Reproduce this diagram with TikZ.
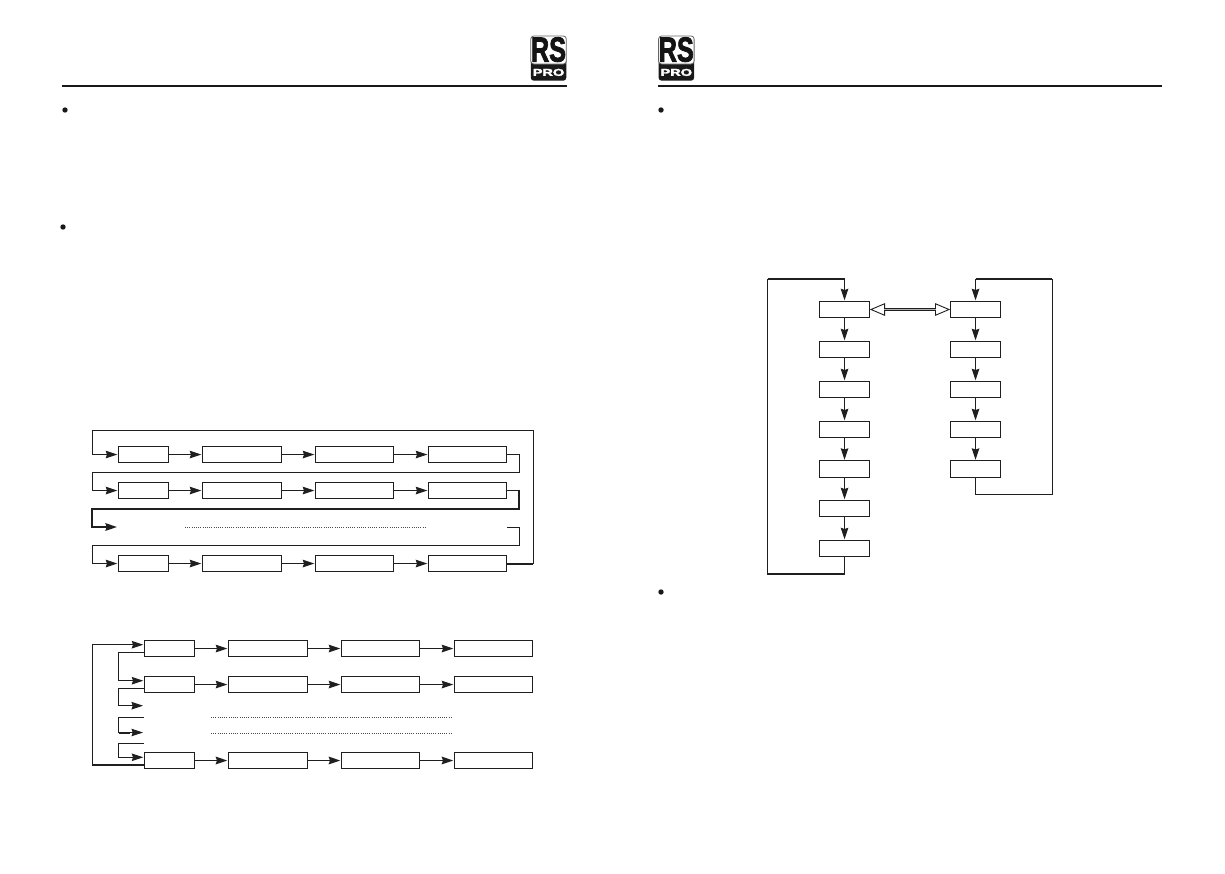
\documentclass[tikz,border=0pt]{standalone}
\usepackage{fontspec}
\setmainfont{Liberation Sans}
\newfontfamily\heavyfont[BoldFeatures={FakeBold=2.5}]{Liberation Sans}
\usetikzlibrary{arrows.meta,shapes.arrows,calc}
\tikzset{
 px/.style={x=1pt,y=-1pt},
 sbox/.style={draw=black!88,line width=1pt,inner sep=0pt,outer sep=0pt,minimum width=50.4pt,minimum height=16.4pt},
 mbox/.style={sbox,minimum width=79.4pt},
 nbox/.style={sbox,minimum width=78.4pt},
 vbox/.style={sbox},
 conn/.style={draw=black!88,line width=0.9pt,line join=miter},
 thk/.style={conn,line width=2pt},
 arr/.style={conn,-{Stealth[length=11.5pt,width=7.5pt,inset=1.2pt]},shorten >=1pt},
 tarr/.style={arr,line width=1.9pt},
 dots/.style={draw=black!70,line width=0.8pt,dash pattern=on 1pt off 1.2pt},
 rule/.style={draw=black!90,line width=1.4pt},
 bullet/.style={circle,fill=black!90,inner sep=0pt,minimum size=5.4pt},
 logoouter/.style={draw=black!60,fill=white,line width=0.8pt,rounded corners=3pt},
 logotxt/.style={font=\heavyfont\bfseries,inner sep=0pt},
}
\newcommand{\rsLogo}[3]{% name, left x, top y
 \begin{scope}[shift={(#2,#3)}]
  \fill[black!90,rounded corners=3pt] (0,20) rectangle (35.5,44.7);
  \draw[logoouter] (0,0) rectangle (35.5,28);
  \node[logotxt,text=black!92] (#1rs) at (17.7,13.6) {\scalebox{1.05}[1.45]{\fontsize{24}{24}\selectfont RS}};
  \node[logotxt,text=white] (#1pro) at (17.7,36.4) {\scalebox{1.45}[1]{\fontsize{10}{10}\selectfont PRO}};
 \end{scope}
}
\begin{document}
\begin{tikzpicture}[px]
\useasboundingbox (0,0) rectangle (1225,873);
\fill[white] (0,0) rectangle (1225,873);

% headers
\rsLogo{la}{530.8}{36}
\rsLogo{lb}{658.6}{36}
\coordinate (hl1) at (62,86); \coordinate (hl2) at (567,86);
\coordinate (hr1) at (658,86); \coordinate (hr2) at (1162,86);
\draw[rule] (hl1) -- (hl2);
\draw[rule] (hr1) -- (hr2);
\node[bullet] (b1) at (65,110) {};
\node[bullet] (b2) at (63,227) {};
\node[bullet] (b3) at (661,110) {};
\node[bullet] (b4) at (661,592) {};

% first diagram
\foreach \r/\y in {a/454.5,b/490.5,d/563.5}{
 \node[sbox] (\r1) at (143.5,\y) {};
 \node[mbox] (\r2) at (242,\y) {};
 \node[nbox] (\r3) at (354.5,\y) {};
 \node[nbox] (\r4) at (467.5,\y) {};
 \draw[arr] (\r1.east) -- (\r2.west);
 \draw[arr] (\r2.east) -- (\r3.west);
 \draw[arr] (\r3.east) -- (\r4.west);
}
\coordinate (cstub) at (507,527);
\coordinate (cin) at (118,527);
\coordinate (cdl) at (185,527);
\coordinate (cdr) at (427,527);
\draw[dots] (cdl) -- (cdr);
% outer loop
\draw[arr] (d4.east) -- (533.3,563.5) -- (533.3,430.3) -- (92.3,430.3) -- (92.3,454.5) -- (a1.west);
\draw[thk] (d4.east) -- (533.3,563.5);
% row links
\draw[arr] (a4.east) -- (519.3,454.5) -- (519.3,472.3) -- (92.3,472.3) -- (92.3,490.5) -- (b1.west);
\draw[tarr] (b4.east) -- (519.3,490.5) -- (519.3,509) -- (92.3,509) -- (92.3,527) -- (cin);
\draw[arr] (cstub) -- (519.3,527) -- (519.3,545.3) -- (92.3,545.3) -- (92.3,563.5) -- (d1.west);

% second diagram
\foreach \r/\y in {e/648.5,f/684.5,h/760.5}{
 \node[sbox] (\r1) at (169.5,\y) {};
 \node[mbox] (\r2) at (268,\y) {};
 \node[nbox] (\r3) at (380.5,\y) {};
 \node[nbox] (\r4) at (493.5,\y) {};
}
\foreach \r in {e,f}{
 \draw[arr] (\r1.east) -- (\r2.west);
 \draw[arr] (\r2.east) -- (\r3.west);
 \draw[arr] (\r3.east) -- (\r4.west);
}
\draw[tarr] (h1.east) -- (h2.west);
\draw[tarr] (h2.east) -- (h3.west);
\draw[tarr] (h3.east) -- (h4.west);
\coordinate (g1) at (144,705.7);
\coordinate (g2) at (144,717.3);
\coordinate (g3) at (144,732.5);
\coordinate (g4) at (144,743.3);
\coordinate (gd1) at (211,717.3); \coordinate (gd2) at (452,717.3);
\coordinate (gd3) at (211,733.3); \coordinate (gd4) at (452,733.3);
\draw[dots] (gd1) -- (gd2);
\draw[dots] (gd3) -- (gd4);
\draw[arr] ([yshift=-4.5pt]h1.west) -- (92.3,765) -- (92.3,644.7) -- ([yshift=3.8pt]e1.west);
\draw[thk] ([yshift=-4.5pt]h1.west) -- (92.3,765);
\draw[arr] ([yshift=-3.8pt]e1.west) -- (118.7,652.3) -- (118.7,680.7) -- ([yshift=3.8pt]f1.west);
\draw[arr] ([yshift=-3.8pt]f1.west) -- (118.7,688.3) -- (118.7,705.7) -- (g1);
\draw[arr] (g2) -- (118.7,717.3) -- (118.7,732.5) -- (g3);
\draw[thk] (118.7,732.5) -- (130,732.5);
\draw[arr] (g4) -- (118.7,743.3) -- (118.7,757.3) -- ([yshift=3.2pt]h1.west);

% third diagram
\foreach \n/\y in {1/309.5,2/349.5,3/389.5,4/429.5,5/469,6/508.5,7/548.5}{
 \node[vbox] (l\n) at (844.5,\y) {};
}
\foreach \n/\y in {1/309.5,2/349.5,3/389.5,4/429.5,5/469}{
 \node[vbox] (r\n) at (975.5,\y) {};
}
\foreach \a/\b in {1/2,2/3,3/4,4/5,5/6,6/7}{
 \draw[arr] (l\a.south) -- (l\b.north);
}
\foreach \a/\b in {1/2,2/3,3/4,4/5}{
 \draw[arr] (r\a.south) -- (r\b.north);
}
\coordinate (lbot) at (844.5,574);
\coordinate (ltop) at (844.5,279);
\coordinate (rtop) at (975.5,279);
\coordinate (rbot) at (975.5,494.3);
\draw[arr] (l7.south) -- (lbot) -- (767.5,574) -- (767.5,279) -- (ltop) -- (l1.north);
\draw[thk] (lbot) -- (767.5,574);
\draw[thk] (767.5,279) -- (ltop);
\draw[arr] (r5.south) -- (rbot) -- (1052.3,494.3) -- (1052.3,279) -- (rtop) -- (r1.north);
\draw[thk] (1052.3,279) -- (rtop);
\node[double arrow,draw=black!88,fill=white,line width=0.9pt,inner sep=0pt,
  minimum height=78pt,minimum width=11.5pt,double arrow head extend=2.4pt,
  double arrow tip angle=46,double arrow head indent=0pt] (dbl) at ($(l1.east)!0.5!(r1.west)$) {};
\end{tikzpicture}
\end{document}
